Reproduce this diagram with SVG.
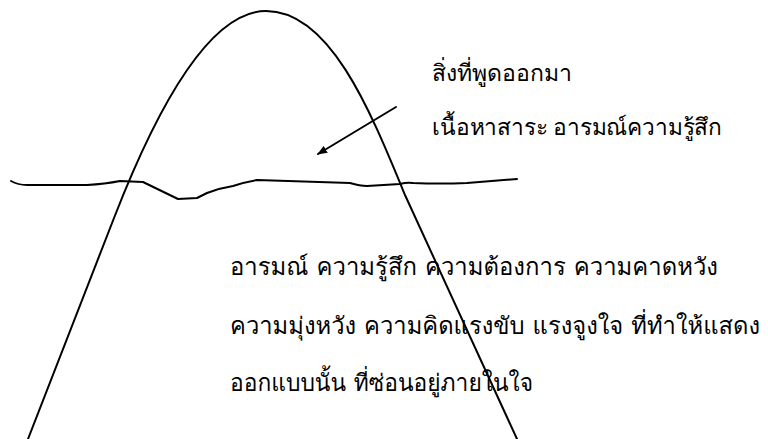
<svg xmlns="http://www.w3.org/2000/svg" width="768" height="439" viewBox="0 0 768 439">
<style>
.ln{fill:none;stroke:#000;stroke-width:2;stroke-linejoin:round;stroke-linecap:round}
.sm{font-family:"Norasi","Kinnari","Liberation Serif","Noto Serif","DejaVu Serif",serif;font-size:23px;fill:#000}
.bg{font-family:"Loma","Garuda","Noto Sans","DejaVu Sans","Liberation Sans",sans-serif;font-size:24px;font-weight:300;fill:#000}
</style>
<defs>
<marker id="ah" markerWidth="10" markerHeight="8" refX="9" refY="4" orient="auto" markerUnits="userSpaceOnUse" viewBox="0 0 10 8">
<path d="M0,0 L10,4 L0,8 Z" fill="#000"/>
</marker>
</defs>
<g id="iceberg">
<path class="ln" d="M28,439 L114,218 C142,146 200,11 266,11 C330,11 370,110 405,195 L517,439"/>
</g>
<g id="waterline">
<path class="ln" d="M11,181 Q18,185 27,185 L87,185 Q105,184 120,181 L143,182 L178,199 L197,198 L207,193 Q220,188 233,186 Q245,182 257,180 L350,183 Q360,186 367,186 L400,184 Q407,182 413,183 Q440,184 467,183 L517,179"/>
</g>
<g id="connectors">
<line class="ln" x1="396" y1="107" x2="318" y2="154" marker-end="url(#ah)" stroke-width="2"/>
</g>
<g id="label-top">
<text class="sm" x="432" y="81" textLength="140" lengthAdjust="spacingAndGlyphs">สิ่งที่พูดออกมา</text>
<text class="sm" x="432" y="135" textLength="290" lengthAdjust="spacingAndGlyphs">เนื้อหาสาระ อารมณ์ความรู้สึก</text>
</g>
<g id="label-bottom">
<text class="bg" x="230" y="275" textLength="488" lengthAdjust="spacingAndGlyphs">อารมณ์ ความรู้สึก ความต้องการ ความคาดหวัง</text>
<text class="bg" x="230" y="334" textLength="530" lengthAdjust="spacingAndGlyphs">ความมุ่งหวัง ความคิดแรงขับ แรงจูงใจ ที่ทำให้แสดง</text>
<text class="bg" x="230" y="391" textLength="303" lengthAdjust="spacingAndGlyphs">ออกแบบนั้น ที่ซ่อนอยู่ภายในใจ</text>
</g>
</svg>
